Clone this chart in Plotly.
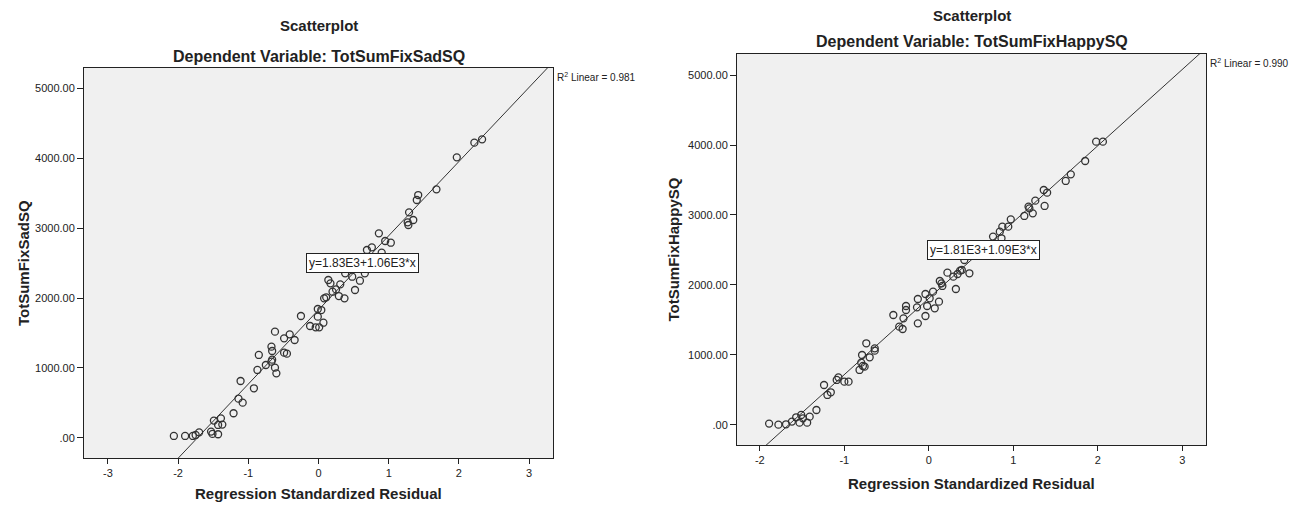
import plotly.graph_objects as go

sad_resid = [-2.06, -1.90, -1.79, -1.75, -1.70, -1.53, -1.51, -1.43, -1.49, -1.39, -1.43, -1.37,
             -1.21, -1.14, -1.08, -1.11, -0.92, -0.87, -0.85, -0.75, -0.67, -0.66, -0.67, -0.66,
             -0.62, -0.62, -0.60, -0.49, -0.49, -0.45, -0.41, -0.34, -0.25, -0.12, -0.04, -0.01,
             0.01, -0.01, 0.04, 0.07, 0.08, 0.11, 0.14, 0.17, 0.20, 0.25, 0.31, 0.29, 0.37, 0.38,
             0.48, 0.52, 0.59, 0.66, 0.69, 0.76, 0.90, 0.86, 0.95, 1.03, 1.28, 1.27, 1.35, 1.29,
             1.40, 1.42, 1.68, 1.97, 2.22, 2.33]
sad_sq = [29, 29, 29, 43, 81, 91, 58, 53, 248, 281, 186, 191,
          353, 562, 505, 814, 710, 972, 1186, 1043, 1090, 1119, 1305, 1243,
          1519, 1005, 924, 1424, 1219, 1205, 1481, 1400, 1743, 1600, 1581, 1843,
          1581, 1733, 1828, 1647, 1995, 2010, 2257, 2209, 2090, 2123, 2195, 2028, 1995, 2352,
          2304, 2114, 2247, 2352, 2686, 2724, 2648, 2924, 2814, 2790, 3043, 3081, 3114, 3224,
          3400, 3471, 3552, 4010, 4219, 4267]

happy_resid = [-1.89, -1.78, -1.69, -1.62, -1.57, -1.53, -1.51, -1.49, -1.44, -1.41, -1.33, -1.24,
               -1.20, -1.16, -1.09, -1.07, -1.00, -0.95, -0.82, -0.80, -0.78, -0.76, -0.79, -0.74,
               -0.70, -0.64, -0.64, -0.42, -0.35, -0.31, -0.30, -0.27, -0.27, -0.14, -0.13, -0.13,
               -0.04, -0.04, -0.02, 0.01, 0.05, 0.07, 0.12, 0.13, 0.15, 0.16, 0.22, 0.29, 0.32, 0.34,
               0.37, 0.39, 0.48, 0.42, 0.76, 0.84, 0.86, 0.87, 0.94, 0.97, 1.13, 1.18, 1.19, 1.23,
               1.26, 1.36, 1.40, 1.37, 1.62, 1.68, 1.85, 1.98, 2.06]
happy_sq = [20, 5, 10, 48, 110, 33, 143, 95, 33, 119, 214, 571,
            429, 467, 643, 681, 619, 619, 786, 890, 843, 833, 1000, 1167,
            967, 1062, 1095, 1571, 1405, 1371, 1524, 1700, 1643, 1681, 1800, 1452,
            1871, 1557, 1700, 1810, 1905, 1667, 1762, 2057, 2024, 1986, 2176, 2119, 1943, 2157,
            2205, 2214, 2167, 2357, 2691, 2762, 2667, 2833, 2833, 2938, 2986, 3119, 3095, 3024,
            3205, 3357, 3319, 3129, 3486, 3581, 3771, 4048, 4048]

sad_fit = (1830, 1060)      # intercept, slope
happy_fit = (1810, 1090)
sad_r2 = "0.981"
happy_r2 = "0.990"

y_ticks = [0, 1000, 2000, 3000, 4000, 5000]
y_ticktext = [".00", "1000.00", "2000.00", "3000.00", "4000.00", "5000.00"]
x_ticks = [-3, -2, -1, 0, 1, 2, 3]
x_ticktext = ["-3", "-2", "-1", "0", "1", "2", "3"]

# ---- page geometry (window pixels, body has 8px margin) ----
W, H = 1296, 496


def px(x):
    return (x - 8) / W


def py(y):
    return (504 - y) / H


FONT = "Liberation Sans, Arial, sans-serif"
INK = "#222222"

panels = [
    dict(x=sad_resid, y=sad_sq, fit=sad_fit, r2=sad_r2, dep="TotSumFixSadSQ",
         xr=[-3.34, 3.34], yr=[-286, 5286], frame=(84, 553, 68, 458),
         ytitle_x=23, box=(0.63, 2500), suffix="", top=(25, 56), bottom=493),
    dict(x=happy_resid, y=happy_sq, fit=happy_fit, r2=happy_r2, dep="TotSumFixHappySQ",
         xr=[-2.27, 3.28], yr=[-286, 5300], frame=(737, 1206, 54, 445),
         ytitle_x=673, box=(0.65, 2500), suffix="2", top=(16, 41), bottom=483),
]

fig = go.Figure()
annotations = []
layout = dict(width=W, height=H, margin=dict(l=0, r=0, t=0, b=0),
              paper_bgcolor="white", plot_bgcolor="#F0F0F0", showlegend=False,
              font=dict(family=FONT, color=INK, size=11))


def note(text, x, y, size, **kw):
    d = dict(text=text, x=x, y=y, xref="paper", yref="paper", showarrow=False,
             xanchor="center", yanchor="middle", font=dict(size=size, family=FONT, color=INK))
    d.update(kw)
    return d


for p in panels:
    s = p["suffix"]
    xa, ya = "x" + s, "y" + s
    x0, x1, y0, y1 = p["frame"]
    a, b = p["fit"]
    fig.add_trace(go.Scatter(x=p["x"], y=p["y"], mode="markers", xaxis=xa, yaxis=ya,
                             marker=dict(symbol="circle-open", size=7, color="#333333",
                                         line=dict(width=1.3)),
                             hoverinfo="x+y"))
    fig.add_trace(go.Scatter(x=p["xr"], y=[a + b * v for v in p["xr"]], mode="lines",
                             xaxis=xa, yaxis=ya, line=dict(color="#333333", width=1),
                             hoverinfo="skip"))
    layout["xaxis" + s] = dict(domain=[px(x0), px(x1)], range=p["xr"], anchor=ya,
                               tickvals=x_ticks, ticktext=x_ticktext, ticks="outside",
                               ticklen=5, tickcolor=INK,
                               showgrid=False, zeroline=False, showline=True, mirror=True,
                               linecolor=INK, linewidth=1,
                               tickfont=dict(size=11, color=INK, family=FONT))
    layout["yaxis" + s] = dict(domain=[py(y1), py(y0)], range=p["yr"], anchor=xa,
                               tickvals=y_ticks, ticktext=y_ticktext, ticks="outside",
                               ticklen=6, tickcolor=INK, showgrid=False, zeroline=False,
                               showline=True, mirror=True, linecolor=INK, linewidth=1,
                               tickfont=dict(size=11, color=INK, family=FONT))
    cx = (x0 + x1) / 2
    annotations += [
        note("<b>Scatterplot</b>", px(cx), py(p["top"][0]), 15),
        note("<b>Dependent Variable: %s</b>" % p["dep"], px(cx), py(p["top"][1]), 16),
        note("<b>Regression Standardized Residual</b>", px(cx), py(p["bottom"]), 15),
        note("<b>%s</b>" % p["dep"], px(p["ytitle_x"]), py((y0 + y1) / 2), 15, textangle=-90),
        note("R<sup>2</sup> Linear = %s" % p["r2"], px(x1 + 2), py(y0 + 9), 10, xanchor="left"),
        dict(text="y=%.2fE3+%.2fE3*x" % (a / 1000, b / 1000), x=p["box"][0], y=p["box"][1],
             xref=xa, yref=ya, showarrow=False, xanchor="center", yanchor="middle",
             bgcolor="white", bordercolor=INK, borderwidth=1, borderpad=2,
             font=dict(size=12, family=FONT, color=INK)),
    ]

layout["annotations"] = annotations
fig.update_layout(**layout)
fig.write_html("out.html")
